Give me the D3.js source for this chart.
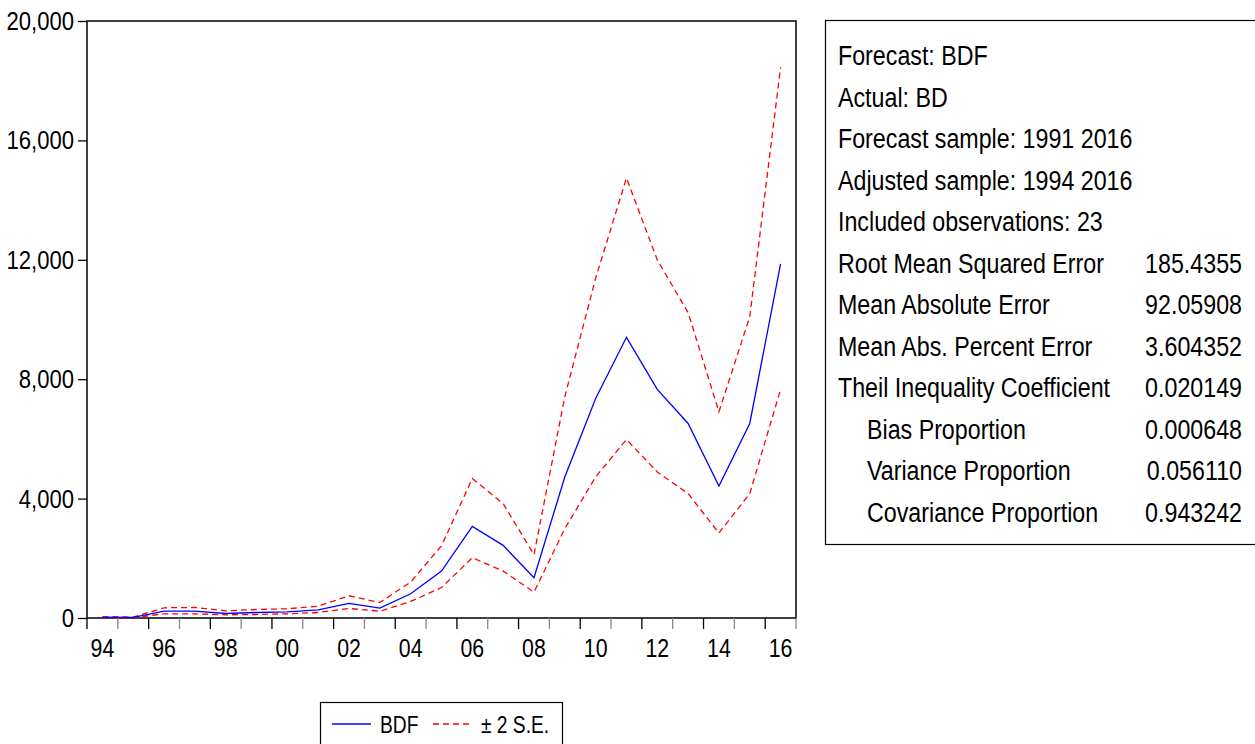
<!DOCTYPE html>
<html>
<head>
<meta charset="utf-8">
<script src="https://cdn.jsdelivr.net/npm/d3@7"></script>
<style>
  body { margin: 0; background: #fff; }
  svg { display: block; }
  text { font-family: "Liberation Sans", Arial, sans-serif; fill: #000; }
</style>
</head>
<body>
<div id="chart"></div>
<script>
// Jahre und Reihen
const years = [1994, 1995, 1996, 1997, 1998, 1999, 2000, 2001, 2002, 2003, 2004, 2005,
  2006, 2007, 2008, 2009, 2010, 2011, 2012, 2013, 2014, 2015, 2016];
const bdf = [27, 20, 228, 228, 151, 185, 208, 275, 487, 329, 812, 1571,
  3071, 2433, 1349, 4725, 7356, 9403, 7658, 6517, 4424, 6517, 11863];
const upper = [40, 31, 342, 352, 241, 285, 308, 396, 745, 520, 1201, 2420,
  4671, 3832, 2121, 7410, 11383, 14739, 11997, 10230, 6907, 10095, 18450];
const lower = [18, 13, 141, 141, 107, 118, 141, 185, 319, 228, 554, 1020,
  2020, 1571, 866, 2993, 4725, 5980, 4893, 4168, 2846, 4168, 7658];
const yTicks = [0, 4000, 8000, 12000, 16000, 20000];

// Statistik-Box
const statLabels = ["Forecast: BDF", "Actual: BD", "Forecast sample: 1991 2016",
  "Adjusted sample: 1994 2016", "Included observations: 23",
  "Root Mean Squared Error", "Mean Absolute Error", "Mean Abs. Percent Error",
  "Theil Inequality Coefficient", "Bias Proportion", "Variance Proportion",
  "Covariance Proportion"];
const statValues = ["", "", "", "", "", "185.4355", "92.05908", "3.604352",
  "0.020149", "0.000648", "0.056110", "0.943242"];
const statIndent = [0, 0, 0, 0, 0, 0, 0, 0, 0, 1, 1, 1];

const W = 1255, H = 744;
const plot = { left: 87, top: 21, right: 796, bottom: 618 };

// schmale Schrift nachbilden: horizontal stauchen
function place(sel, px, py, sx) {
  return sel.attr("transform", `translate(${px},${py}) scale(${sx},1)`);
}

const svg = d3.select("#chart").append("svg")
  .attr("width", W).attr("height", H);

const x = d3.scaleLinear()
  .domain([1994, 2017])
  .range([plot.left, plot.right]);

const y = d3.scaleLinear()
  .domain([0, 20000])
  .range([plot.bottom, plot.top]);

// Rahmen
svg.append("rect")
  .attr("x", plot.left).attr("y", plot.top)
  .attr("width", plot.right - plot.left).attr("height", plot.bottom - plot.top)
  .attr("fill", "none").attr("stroke", "#000").attr("stroke-width", 1.5);

// y-Achse
const yAxis = svg.append("g")
  .attr("transform", `translate(${plot.left},0)`)
  .call(d3.axisLeft(y).tickValues(yTicks).tickSize(9).tickFormat(""));
yAxis.select(".domain").remove();
yAxis.selectAll(".tick line").attr("stroke", "#000").attr("stroke-width", 1.3);

svg.append("g").selectAll("text")
  .data(yTicks)
  .enter()
  .append("text")
  .attr("text-anchor", "end")
  .style("font-size", "26px")
  .each(function (d) { place(d3.select(this), 74, y(d) + 9, 0.85); })
  .text(d => d3.format(",")(d));

// x-Achse: Striche an Jahresgrenzen, Beschriftung in der Mitte
const xTickYears = d3.range(1994, 2018);
svg.append("g").selectAll("line")
  .data(xTickYears)
  .enter()
  .append("line")
  .attr("x1", d => x(d)).attr("x2", d => x(d))
  .attr("y1", plot.bottom).attr("y2", plot.bottom + 11)
  .attr("stroke", d => d % 2 === 0 ? "#000" : "#888")
  .attr("stroke-width", 1.3);

svg.append("g").selectAll("text")
  .data(years.filter(d => d % 2 === 0))
  .enter()
  .append("text")
  .attr("text-anchor", "middle")
  .style("font-size", "26px")
  .each(function (d) { place(d3.select(this), x(d + 0.5), 657, 0.82); })
  .text(d => String(d % 100).padStart(2, "0"));

// Linien
const line = vals => d3.line()
  .x((d, i) => x(years[i] + 0.5))
  .y(d => y(d))(vals);

svg.append("path").attr("d", line(upper))
  .attr("fill", "none").attr("stroke", "#ff0000").attr("stroke-width", 1.3)
  .attr("stroke-dasharray", "6,4");
svg.append("path").attr("d", line(lower))
  .attr("fill", "none").attr("stroke", "#ff0000").attr("stroke-width", 1.3)
  .attr("stroke-dasharray", "6,4");
svg.append("path").attr("d", line(bdf))
  .attr("fill", "none").attr("stroke", "#0000ff").attr("stroke-width", 1.3);

// Legende
const leg = svg.append("g");
leg.append("rect")
  .attr("x", 320.5).attr("y", 702.5).attr("width", 242).attr("height", 60)
  .attr("fill", "#fff").attr("stroke", "#000").attr("stroke-width", 1.2);
leg.append("line")
  .attr("x1", 332).attr("x2", 371).attr("y1", 724).attr("y2", 724)
  .attr("stroke", "#0000ff").attr("stroke-width", 1.3);
place(leg.append("text"), 380, 733, 0.8).style("font-size", "24px").text("BDF");
leg.append("line")
  .attr("x1", 433).attr("x2", 473).attr("y1", 724).attr("y2", 724)
  .attr("stroke", "#ff0000").attr("stroke-width", 1.3).attr("stroke-dasharray", "6,4");
place(leg.append("text"), 481, 733, 0.8).style("font-size", "24px").text("± 2 S.E.");

// Statistik-Box
const box = svg.append("g");
box.append("rect")
  .attr("x", 825.5).attr("y", 20.5).attr("width", 450).attr("height", 524)
  .attr("fill", "#fff").attr("stroke", "#000").attr("stroke-width", 1.2);

const rowY = i => 55 + i * 41.5 + 10;
box.selectAll("text.lab")
  .data(statLabels)
  .enter()
  .append("text")
  .attr("class", "lab")
  .style("font-size", "28px")
  .each(function (d, i) { place(d3.select(this), statIndent[i] ? 867 : 838, rowY(i), 0.83); })
  .text(d => d);
box.selectAll("text.val")
  .data(statValues)
  .enter()
  .append("text")
  .attr("class", "val")
  .attr("text-anchor", "end")
  .style("font-size", "28px")
  .each(function (d, i) { place(d3.select(this), 1242, rowY(i), 0.83); })
  .text(d => d);
</script>
</body>
</html>
